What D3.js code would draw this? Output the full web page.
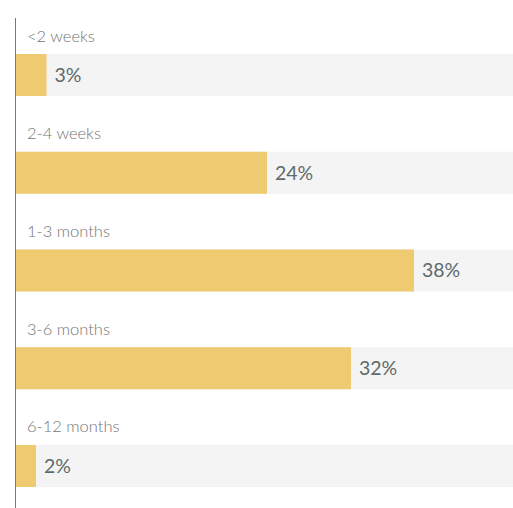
<!DOCTYPE html>
<html>
<head>
<meta charset="utf-8">
<script src="https://cdn.jsdelivr.net/npm/d3@7"></script>
<style>
  body { margin: 0; background: #fff; }
  svg { display: block; }
  .cat { font-family: Lato, "Open Sans", sans-serif; font-weight: 300; font-size: 16.5px; fill: #757575; }
  .val { font-family: Lato, "Open Sans", sans-serif; font-weight: 400; font-size: 19.5px; fill: #5e6a6a; }
</style>
</head>
<body>
<svg id="chart" width="513" height="508"></svg>
<script>
const categories = ["<2 weeks", "2-4 weeks", "1-3 months", "3-6 months", "6-12 months"];
const values = [3, 24, 38, 32, 2];

var svg = d3.select("#chart"),
    width = +svg.attr("width"),
    height = +svg.attr("height"),
    left = 15;

var data = categories.map(function(c, i) { return {name: c, value: values[i]}; });

var x = d3.scaleLinear()
    .domain([0, 40])
    .range([left, left + 420]);

var y = d3.scaleBand()
    .domain(categories)
    .range([54, 487])
    .paddingInner(0.57)
    .paddingOuter(0);

var row = svg.append("g")
  .selectAll("g").data(data).enter().append("g");

// grey track behind each bar
row.append("rect")
    .attr("x", left)
    .attr("y", function(d) { return y(d.name); })
    .attr("width", width - left)
    .attr("height", y.bandwidth())
    .attr("fill", "#f4f4f4");

row.append("rect")
    .attr("x", left)
    .attr("y", function(d) { return y(d.name); })
    .attr("width", function(d) { return x(d.value) - left; })
    .attr("height", y.bandwidth())
    .attr("fill", "#eecb70");

row.append("text")
    .attr("class", "cat")
    .attr("x", 27)
    .attr("y", function(d) { return y(d.name) - 12.5; })
    .text(function(d) { return d.name; });

row.append("text")
    .attr("class", "val")
    .attr("x", function(d) { return x(d.value) + 8; })
    .attr("y", function(d) { return y(d.name) + y.bandwidth() / 2; })
    .attr("dy", "0.35em")
    .text(function(d) { return d.value + "%"; });

svg.append("line")
    .attr("x1", left + 0.5).attr("x2", left + 0.5)
    .attr("y1", 18).attr("y2", height)
    .attr("stroke", "#7a7a7a")
    .attr("stroke-width", 1);
</script>
</body>
</html>
